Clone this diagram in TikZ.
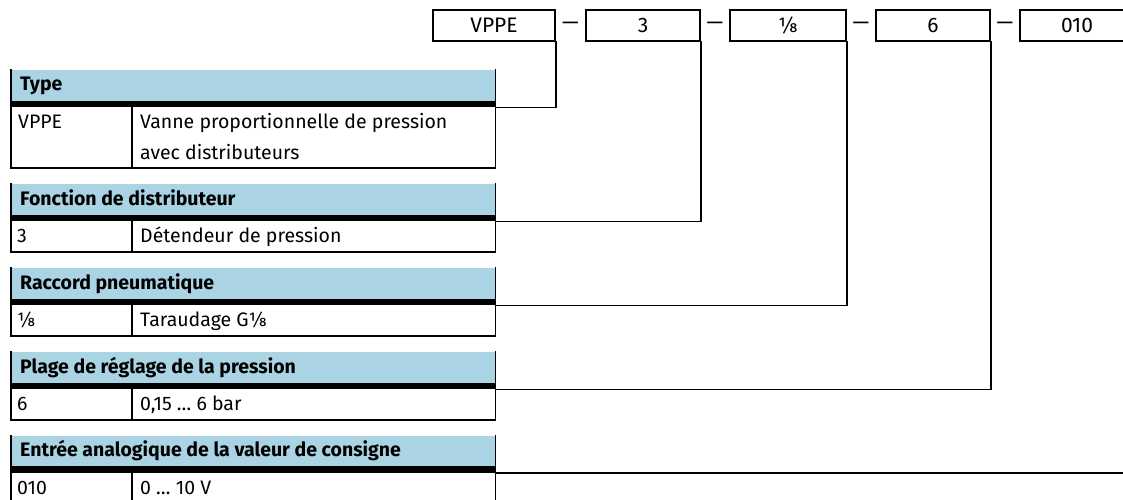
\documentclass[tikz,border=0pt]{standalone}
\usepackage{fontspec}
\setmainfont{Fira Sans}
\usetikzlibrary{calc}
\definecolor{hblue}{HTML}{AAD3E3}
\newcommand\myfs{\fontsize{19.5pt}{31pt}\selectfont}
\newcommand\mybigfs{\fontsize{21pt}{31pt}\selectfont}
\tikzset{
  frame/.style={line width=1.6pt, line cap=rect},
  rule/.style={line width=6.5pt},
  topbox/.style={draw, line width=1.6pt, minimum height=31pt, inner sep=0pt, font=\mybigfs},
  dashtxt/.style={inner sep=0pt, font=\mybigfs},
  hdr/.style={fill=hblue, anchor=north west, minimum width=484pt, minimum height=37pt, inner sep=0pt},
  rowbox/.style={anchor=north west, minimum width=484pt, inner sep=0pt},
  htxt/.style={anchor=base west, inner sep=0pt, font=\myfs\bfseries},
  rtxt/.style={anchor=base west, inner sep=0pt, font=\myfs, align=left},
}
\begin{document}
\begin{tikzpicture}[x=1pt,y=-1pt]
\useasboundingbox (0,0) rectangle (1123,500);
\clip (0,0) rectangle (1123,500);

% top code boxes
\node[topbox, minimum width=122pt] (b1) at (494,25.5) {VPPE};
\node[topbox, minimum width=114pt] (b2) at (643,25.5) {3};
\node[topbox, minimum width=116pt] (b3) at (788,25.5) {⅛};
\node[topbox, minimum width=114pt] (b4) at (933,25.5) {6};
\node[topbox, minimum width=114pt] (b5) at (1077,25.5) {010};
\node[dashtxt] (d1) at ($(b1.east)!0.5!(b2.west)$) {—};
\node[dashtxt] (d2) at ($(b2.east)!0.5!(b3.west)$) {—};
\node[dashtxt] (d3) at ($(b3.east)!0.5!(b4.west)$) {—};
\node[dashtxt] (d4) at ($(b4.east)!0.5!(b5.west)$) {—};

% section 1: Type
\node[hdr] (h1) at (11,70) {};
\node[rowbox, minimum height=60pt] (r1) at (h1.south west) {};
\draw[rule] ([yshift=3.25pt]h1.south west) -- ([yshift=3.25pt]h1.south east);
\draw[frame] (h1.north west) -- (r1.south west) -- (r1.south east) -- (h1.north east);
\draw[frame] ($(r1.north west)+(121,0)$) -- ($(r1.south west)+(121,0)$);
\node[htxt] (h1t) at ($(h1.north west)+(9,21)$) {Type};
\node[rtxt] (r1a) at ($(r1.north west)+(7,21.5)$) {VPPE};
\node[rtxt] (r1b) at ($(r1.north west)+(129,52.5)$) {Vanne proportionnelle de pression\\avec distributeurs};

% section 2
\node[hdr] (h2) at (11,184) {};
\node[rowbox, minimum height=30pt] (r2) at (h2.south west) {};
\draw[rule] ([yshift=3.25pt]h2.south west) -- ([yshift=3.25pt]h2.south east);
\draw[frame] (h2.north west) -- (r2.south west) -- (r2.south east) -- (h2.north east);
\draw[frame] ($(r2.north west)+(121,0)$) -- ($(r2.south west)+(121,0)$);
\node[htxt] (h2t) at ($(h2.north west)+(9,21)$) {Fonction de distributeur};
\node[rtxt] (r2a) at ($(r2.north west)+(6,21.5)$) {3};
\node[rtxt] (r2b) at ($(r2.north west)+(129,21.5)$) {Détendeur de pression};

% section 3
\node[hdr] (h3) at (11,268) {};
\node[rowbox, minimum height=30pt] (r3) at (h3.south west) {};
\draw[rule] ([yshift=3.25pt]h3.south west) -- ([yshift=3.25pt]h3.south east);
\draw[frame] (h3.north west) -- (r3.south west) -- (r3.south east) -- (h3.north east);
\draw[frame] ($(r3.north west)+(121,0)$) -- ($(r3.south west)+(121,0)$);
\node[htxt] (h3t) at ($(h3.north west)+(9,21)$) {Raccord pneumatique};
\node[rtxt] (r3a) at ($(r3.north west)+(6,21.5)$) {⅛};
\node[rtxt] (r3b) at ($(r3.north west)+(129,21.5)$) {Taraudage G⅛};

% section 4
\node[hdr] (h4) at (11,352) {};
\node[rowbox, minimum height=30pt] (r4) at (h4.south west) {};
\draw[rule] ([yshift=3.25pt]h4.south west) -- ([yshift=3.25pt]h4.south east);
\draw[frame] (h4.north west) -- (r4.south west) -- (r4.south east) -- (h4.north east);
\draw[frame] ($(r4.north west)+(121,0)$) -- ($(r4.south west)+(121,0)$);
\node[htxt] (h4t) at ($(h4.north west)+(9,21)$) {Plage de réglage de la pression};
\node[rtxt] (r4a) at ($(r4.north west)+(6,21.5)$) {6};
\node[rtxt] (r4b) at ($(r4.north west)+(129,21.5)$) {0,15 … 6 bar};

% section 5
\node[hdr] (h5) at (11,435.5) {};
\node[rowbox, minimum height=30pt] (r5) at (h5.south west) {};
\draw[rule] ([yshift=3.25pt]h5.south west) -- ([yshift=3.25pt]h5.south east);
\draw[frame] (h5.north west) -- (r5.south west) -- (r5.south east) -- (h5.north east);
\draw[frame] ($(r5.north west)+(121,0)$) -- ($(r5.south west)+(121,0)$);
\node[htxt] (h5t) at ($(h5.north west)+(9,21)$) {Entrée analogique de la valeur de consigne};
\node[rtxt] (r5a) at ($(r5.north west)+(6,21.5)$) {010};
\node[rtxt] (r5b) at ($(r5.north west)+(129,21.5)$) {0 … 10 V};

% connectors
\draw[frame] (b1.south east) |- (r1.north east);
\draw[frame] (b2.south east) |- (r2.north east);
\draw[frame] (b3.south east) |- (r3.north east);
\draw[frame] (b4.south east) |- (r4.north east);
\draw[frame] (b5.south east) |- (r5.north east);
\end{tikzpicture}
\end{document}
